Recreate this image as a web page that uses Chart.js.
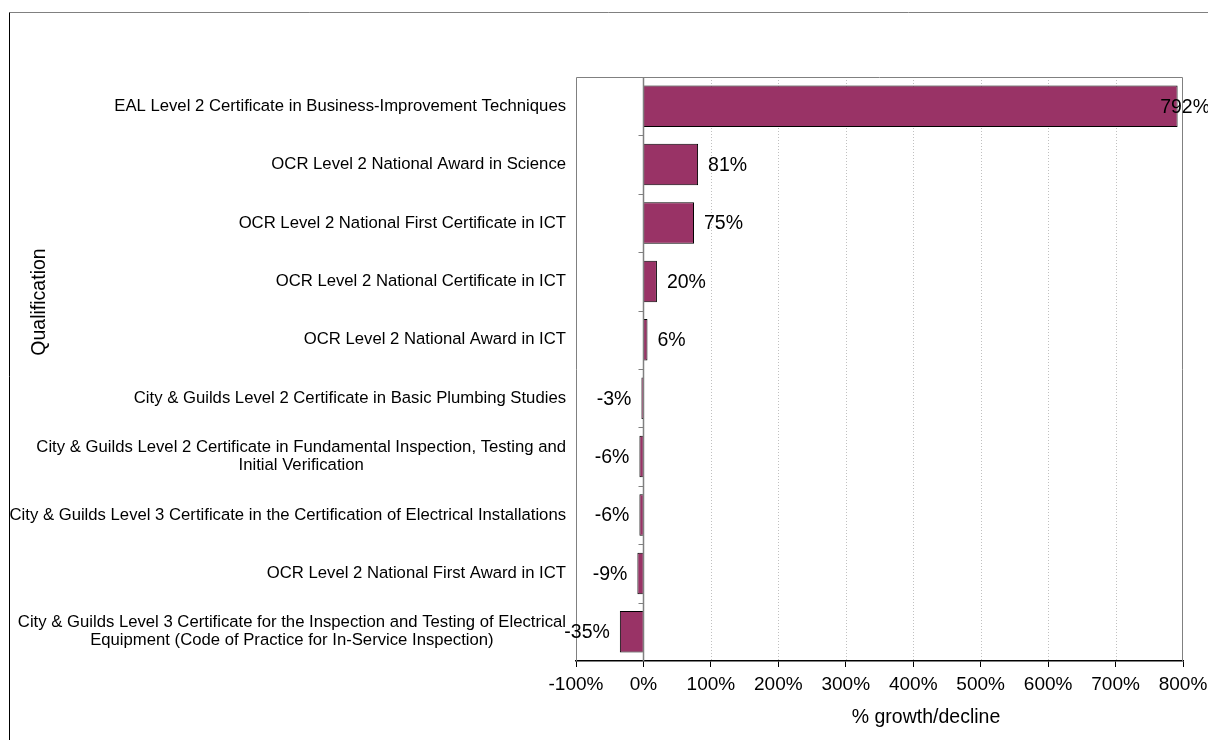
<!DOCTYPE html>
<html lang="en">
<head>
    <meta charset="UTF-8">
    <title>Qualification growth/decline</title>
    <script src="https://cdnjs.cloudflare.com/ajax/libs/Chart.js/4.4.1/chart.umd.min.js"></script>
    <style>
        html, body {
            margin: 0;
            padding: 0;
            background: #fff;
        }
        #wrap {
            width: 1208px;
            height: 740px;
        }
    </style>
</head>
<body>
    <div id="wrap"><canvas id="growthChart" width="1208" height="740"></canvas></div>

    <script>
        const FONT = '"Liberation Sans", Arial, sans-serif';

        // category labels, top to bottom (multi-line where the original wraps)
        const qualifications = [
            ['EAL Level 2 Certificate in Business-Improvement Techniques'],
            ['OCR Level 2 National Award in Science'],
            ['OCR Level 2 National First Certificate in ICT'],
            ['OCR Level 2 National Certificate in ICT'],
            ['OCR Level 2 National Award in ICT'],
            ['City & Guilds Level 2 Certificate in Basic Plumbing Studies'],
            ['City & Guilds Level 2 Certificate in Fundamental Inspection, Testing and', 'Initial Verification'],
            ['City & Guilds Level 3 Certificate in the Certification of Electrical Installations'],
            ['OCR Level 2 National First Award in ICT'],
            ['City & Guilds Level 3 Certificate for the Inspection and Testing of Electrical', 'Equipment (Code of Practice for In-Service Inspection)']
        ];
        const growth = [792, 81, 75, 20, 6, -3, -6, -6, -9, -35];

        const xMin = -100;
        const xMax = 800;
        const xStep = 100;
        const xTitle = '% growth/decline';
        const yTitle = 'Qualification';

        // frame, grid, category labels, value labels and titles
        const decorations = {
            id: 'decorations',
            beforeDatasetsDraw(chart) {
                const { ctx, chartArea: a, scales: { x } } = chart;
                ctx.save();
                // outer frame
                ctx.lineWidth = 1;
                ctx.strokeStyle = '#808080';
                ctx.beginPath();
                ctx.moveTo(9.5, 12.5);
                ctx.lineTo(1208, 12.5);
                ctx.stroke();
                ctx.strokeStyle = '#000';
                ctx.beginPath();
                ctx.moveTo(9.5, 12.5);
                ctx.lineTo(9.5, 740);
                ctx.stroke();

                // dotted grid lines
                ctx.strokeStyle = '#c0c0c0';
                ctx.setLineDash([1, 2]);
                for (let v = xMin + xStep; v < xMax; v += xStep) {
                    if (v === 0) continue;
                    const px = Math.round(x.getPixelForValue(v)) + 0.5;
                    ctx.beginPath();
                    ctx.moveTo(px, a.top);
                    ctx.lineTo(px, a.bottom);
                    ctx.stroke();
                }
                ctx.setLineDash([]);

                // plot border (top, left, right)
                ctx.strokeStyle = '#808080';
                ctx.beginPath();
                ctx.moveTo(a.left + 0.5, a.bottom);
                ctx.lineTo(a.left + 0.5, a.top + 0.5);
                ctx.lineTo(a.right - 0.5, a.top + 0.5);
                ctx.lineTo(a.right - 0.5, a.bottom);
                ctx.stroke();
                ctx.restore();
            },
            afterDatasetsDraw(chart) {
                const { ctx, chartArea: a, scales: { x, y } } = chart;
                const x0 = Math.round(x.getPixelForValue(0)) + 0.5;
                ctx.save();

                // zero line
                ctx.strokeStyle = '#808080';
                ctx.lineWidth = 1.5;
                ctx.beginPath();
                ctx.moveTo(x0, a.top);
                ctx.lineTo(x0, a.bottom);
                ctx.stroke();

                // category tick marks on the zero line
                const band = (a.bottom - a.top) / qualifications.length;
                ctx.lineWidth = 1;
                for (let i = 1; i < qualifications.length; i++) {
                    const py = Math.round(a.top + i * band) + 0.5;
                    ctx.beginPath();
                    ctx.moveTo(x0 - 5, py);
                    ctx.lineTo(x0, py);
                    ctx.stroke();
                }

                // category labels
                ctx.fillStyle = '#000';
                ctx.textBaseline = 'middle';
                ctx.font = '16.7px ' + FONT;
                const labelRight = a.left - 10;
                const lineH = 18;
                qualifications.forEach((lines, i) => {
                    const cy = y.getPixelForValue(i);
                    const w = Math.max(...lines.map(l => ctx.measureText(l).width));
                    const cx = labelRight - w / 2;
                    ctx.textAlign = 'center';
                    lines.forEach((l, j) => {
                        ctx.fillText(l, cx, cy + (j - (lines.length - 1) / 2) * lineH);
                    });
                });

                // value labels
                ctx.font = '19.5px ' + FONT;
                const meta = chart.getDatasetMeta(0);
                meta.data.forEach((bar, i) => {
                    const v = growth[i];
                    const txt = v + '%';
                    const w = ctx.measureText(txt).width;
                    if (v >= 0) {
                        ctx.textAlign = 'left';
                        const tx = Math.min(bar.x + 10, chart.width - w + 2);
                        ctx.fillText(txt, tx, bar.y + 1);
                    } else {
                        ctx.textAlign = 'right';
                        ctx.fillText(txt, bar.x - 10, bar.y + 1);
                    }
                });

                // axis titles
                ctx.textAlign = 'center';
                ctx.fillText(xTitle, 926, 718);
                ctx.translate(40, 302);
                ctx.rotate(-Math.PI / 2);
                ctx.fillText(yTitle, 0, 0);
                ctx.restore();
            }
        };

        function initChart() {
            const ctx = document.getElementById('growthChart').getContext('2d');
            return new Chart(ctx, {
                type: 'bar',
                data: {
                    labels: qualifications,
                    datasets: [{
                        data: growth,
                        backgroundColor: '#993366',
                        borderColor: '#000',
                        borderWidth: 1,
                        barPercentage: 0.71,
                        categoryPercentage: 1
                    }]
                },
                options: {
                    indexAxis: 'y',
                    responsive: false,
                    animation: false,
                    layout: {
                        padding: { left: 576, right: 25, top: 77, bottom: 39 }
                    },
                    plugins: {
                        legend: { display: false },
                        tooltip: { enabled: false }
                    },
                    scales: {
                        x: {
                            min: xMin,
                            max: xMax,
                            afterFit(scale) {
                                scale.height = 40;
                                scale.paddingLeft = 0;
                                scale.paddingRight = 0;
                            },
                            ticks: {
                                stepSize: xStep,
                                color: '#000',
                                padding: 6,
                                maxRotation: 0,
                                font: { family: FONT, size: 19 },
                                callback: v => v + '%'
                            },
                            grid: {
                                drawOnChartArea: false,
                                drawTicks: true,
                                tickLength: 6,
                                tickColor: '#000'
                            },
                            border: { color: '#000', width: 1.5 }
                        },
                        y: {
                            display: false
                        }
                    }
                },
                plugins: [decorations]
            });
        }

        initChart();
    </script>
</body>
</html>
